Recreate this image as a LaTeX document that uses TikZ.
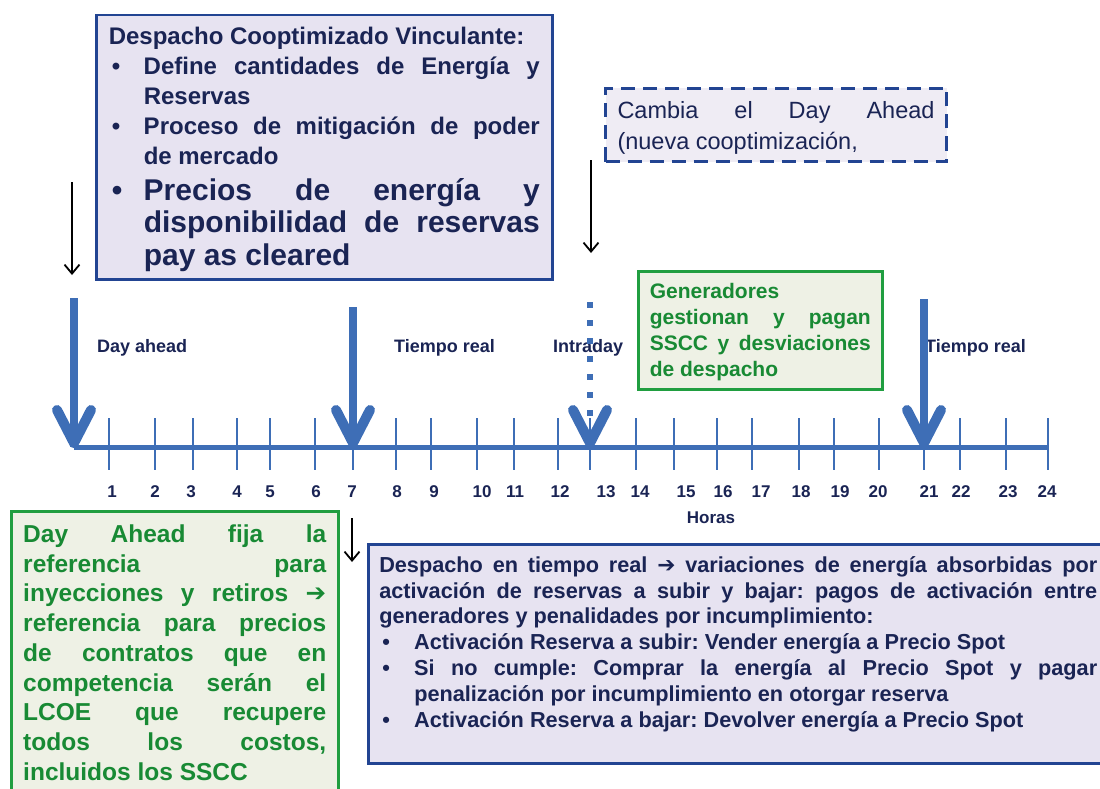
\documentclass[tikz,border=0pt]{standalone}
\usepackage{fontspec}
\setmainfont{Liberation Sans}
\newfontfamily\symfont{DejaVu Sans}
\usetikzlibrary{arrows.meta, positioning}
\definecolor{boxblue}{RGB}{34, 68, 146}
\definecolor{boxfill}{RGB}{231, 227, 241}
\definecolor{dashfill}{RGB}{239, 236, 244}
\definecolor{navytext}{RGB}{26, 36, 84}
\definecolor{linegreen}{RGB}{32, 158, 64}
\definecolor{textgreen}{RGB}{24, 138, 52}
\definecolor{greenfill}{RGB}{238, 241, 229}
\definecolor{axisblue}{RGB}{62, 110, 182}
\newcommand{\bitem}[1]{\par\noindent\hangindent=#1\hangafter=1\makebox[#1][l]{\hspace{3pt}\textbullet}\ignorespaces}
\newcommand{\rarr}{{\symfont ➔}}
\frenchspacing

\begin{document}
\begin{tikzpicture}[
    x=1pt, y=-1pt,
    bluebox/.style={rectangle, draw=boxblue, line width=2.5pt, fill=boxfill, text=navytext, anchor=north west, font=\bfseries},
    dashbox/.style={rectangle, draw=boxblue, line width=3pt, dash pattern=on 14pt off 8pt, fill=dashfill, text=navytext, anchor=north west},
    greenbox/.style={rectangle, draw=linegreen, line width=2.5pt, fill=greenfill, text=textgreen, anchor=north west, font=\bfseries},
    axisline/.style={axisblue, line width=5pt},
    tickline/.style={axisblue, line width=1.3pt},
    shaft/.style={axisblue, line width=8pt},
    dotshaft/.style={axisblue, line width=6pt, dash pattern=on 6pt off 12pt},
    chevron/.style={axisblue, line width=10pt, line cap=round, line join=round},
    thinarrow/.style={black, line width=1.8pt, -{Straight Barb[length=9pt, width=15pt]}},
    phaselabel/.style={font=\bfseries\fontsize{18}{20}\selectfont, text=navytext, anchor=west, inner sep=0pt},
    hourlabel/.style={font=\bfseries\fontsize{17}{19}\selectfont, text=navytext, inner sep=0pt}
]
    \useasboundingbox (0,0) rectangle (1100,789);
    \clip (0,0) rectangle (1100,789);

    % Boxes above the time line
    \node[bluebox, inner xsep=12.5pt, inner ysep=12pt] (coopt) at (95,14) {\parbox[c][240pt][t]{431pt}{%
        \tolerance=10000\hbadness=10000
        \fontsize{24}{30}\selectfont
        Despacho Cooptimizado Vinculante:
        \bitem{35pt}Define cantidades  de Energía y\linebreak Reservas
        \bitem{35pt}Proceso de mitigación de poder\linebreak de mercado\par
        \vspace{3pt}\fontsize{30}{32.5}\selectfont
        \bitem{35pt}Precios de energía y\linebreak disponibilidad de reservas\linebreak pay as cleared}};
    \node[dashbox, inner xsep=12pt, inner ysep=13pt] (cambia) at (604,87) {\parbox[c][47pt][t]{317pt}{%
        \tolerance=10000\hbadness=10000
        \fontsize{23.5}{31}\selectfont
        Cambia el Day Ahead\linebreak (nueva cooptimización,}};
    \node[greenbox, inner xsep=11.5pt, inner ysep=12pt] (gener) at (637,270) {\parbox[c][94pt][t]{221pt}{%
        \tolerance=10000\hbadness=10000
        \fontsize{21}{26}\selectfont
        Generadores\linebreak gestionan y pagan\linebreak SSCC y desviaciones\linebreak de despacho}};

    % Boxes below the time line
    \node[greenbox, inner xsep=12pt, inner ysep=13.5pt] (refda) at (10,510) {\parbox[c][262pt][t]{303pt}{%
        \tolerance=10000\hbadness=10000
        \fontsize{24.5}{29.7}\selectfont
        Day Ahead fija la\linebreak referencia para\linebreak inyecciones y retiros \rarr\linebreak
        referencia para precios\linebreak de contratos que en\linebreak competencia serán el\linebreak
        LCOE que recupere\linebreak todos los costos,\linebreak incluidos los SSCC}};
    \node[bluebox, inner xsep=11pt, inner ysep=12pt] (treal) at (367,543) {\parbox[c][195pt][t]{718pt}{%
        \tolerance=10000\hbadness=10000
        \fontsize{21.7}{25.9}\selectfont
        Despacho en tiempo real \rarr{} variaciones de energía absorbidas por\linebreak
        activación de reservas a subir y bajar: pagos de activación entre\linebreak
        generadores y penalidades por incumplimiento:
        \bitem{35pt}Activación Reserva a subir: Vender energía a Precio Spot
        \bitem{35pt}Si no cumple: Comprar la energía al Precio Spot y pagar\linebreak penalización por incumplimiento en otorgar  reserva
        \bitem{35pt}Activación Reserva a bajar: Devolver  energía a Precio Spot}};

    % Time line
    \coordinate (h0) at (74,447);
    \coordinate (h7) at (353,447);
    \coordinate (h13) at (590,447);
    \coordinate (h21) at (924,447);
    \coordinate (h24) at (1048,447);
    \coordinate (da) at (74,298);
    \coordinate (tr1) at (353,307);
    \coordinate (id) at (590,302);
    \coordinate (idend) at (590,425);
    \coordinate (tr2) at (924,299);

    \draw[axisline] (h0) -- (h24);
    \foreach \x in {109,155,193,237,270,315,353,396,431,477,514,558,590,636,674,717,752,799,834,879,924,960,1006,1048}
        \draw[tickline] (\x,418) -- (\x,470);
    \foreach \x/\n in {112/1,155/2,191/3,237/4,270/5,316/6,352/7,397/8,434/9,482/10,515/11,560/12,
                       606/13,640/14,686/15,723/16,761/17,801/18,840/19,878/20,929/21,961/22,1008/23,1047/24}
        \node[hourlabel] (n\n) at (\x,492) {\n};
    \node[hourlabel] (horas) at (711,518) {Horas};

    \node[phaselabel] (lda) at (97,348) {Day ahead};
    \node[phaselabel] (ltr1) at (394,348) {Tiempo real};
    \node[phaselabel] (lid) at (553,348) {Intraday};
    \node[phaselabel] (ltr2) at (925,348) {Tiempo real};

    % Arrows on the time line
    \draw[shaft] (da) -- (h0);
    \draw[chevron] (h0) ++(-17,-37) -- ++(17,33) -- ++(17,-33);
    \draw[shaft] (tr1) -- (h7);
    \draw[chevron] (h7) ++(-17,-37) -- ++(17,33) -- ++(17,-33);
    \draw[dotshaft] (id) -- (idend);
    \draw[chevron] (h13) ++(-17,-37) -- ++(17,33) -- ++(17,-33);
    \draw[shaft] (tr2) -- (h21);
    \draw[chevron] (h21) ++(-17,-37) -- ++(17,33) -- ++(17,-33);

    % Thin pointers
    \coordinate (p1a) at (72,182);
    \coordinate (p1b) at (72,275);
    \coordinate (p2a) at (591,160);
    \coordinate (p2b) at (591,253);
    \coordinate (p3a) at (352,518);
    \coordinate (p3b) at (352,562);
    \draw[thinarrow] (p1a) -- (p1b);
    \draw[thinarrow] (p2a) -- (p2b);
    \draw[thinarrow] (p3a) -- (p3b);
\end{tikzpicture}
\end{document}
